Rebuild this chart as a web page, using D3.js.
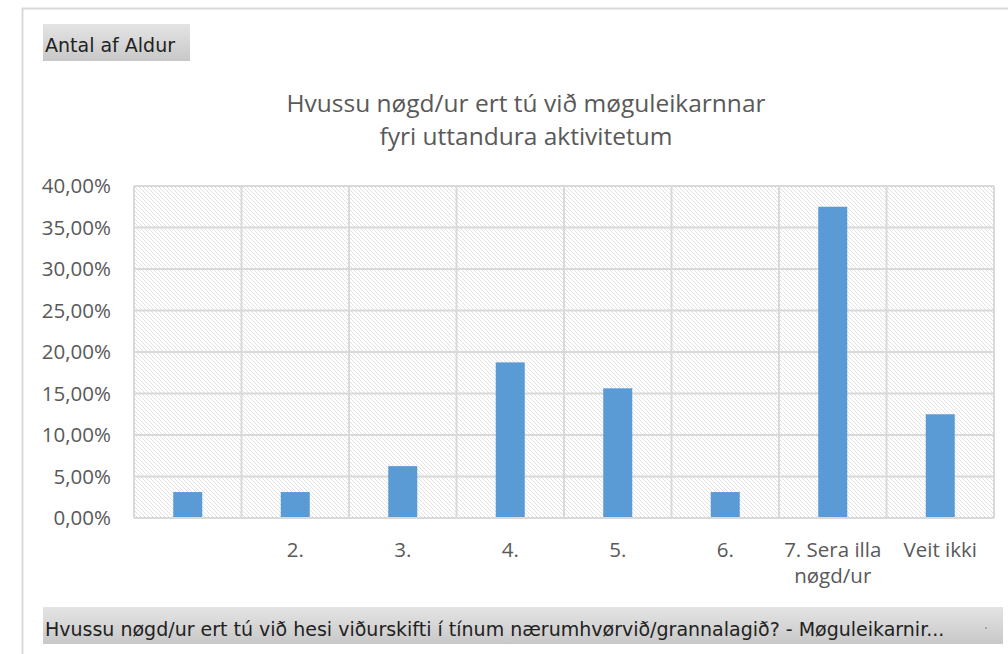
<!DOCTYPE html>
<html><head><meta charset="utf-8">
<script src="https://cdn.jsdelivr.net/npm/d3@7/dist/d3.min.js"></script>
<style>body{margin:0;background:#fff;}svg{display:block;}</style>
</head><body>
<svg id="c" width="1008" height="654"></svg>
<script>
const categories = ["", "2.", "3.", "4.", "5.", "6.", "7. Sera illa|nøgd/ur", "Veit ikki"];
const values = [3.125, 3.125, 6.25, 18.75, 15.625, 3.125, 37.5, 12.5];
const yTicks = [0, 5, 10, 15, 20, 25, 30, 35, 40];
const titleLines = ["Hvussu nøgd/ur ert tú við møguleikarnnar", "fyri uttandura aktivitetum"];
const filterLabel = "Antal af Aldur";
const axisFieldLabel = "Hvussu nøgd/ur ert tú við hesi viðurskifti í tínum nærumhvørvið/grannalagið? - Møguleikarnir...";

const font = "'Open Sans', Lato, sans-serif";
const btnFont = "'DejaVu Sans', Verdana, sans-serif";
const svg = d3.select("#c");
const defs = svg.append("defs");

// hatch pattern
const pat = defs.append("pattern").attr("id","hatch").attr("patternUnits","userSpaceOnUse")
  .attr("width",4).attr("height",4);
pat.append("rect").attr("width",4).attr("height",4).attr("fill","#fff");
pat.append("path").attr("d","M-1,-1 L5,5 M-1,3 L1,5 M3,-1 L5,1").attr("stroke","#e2e2e2").attr("stroke-width",1);

// gray gradient for field buttons
const g1 = defs.append("linearGradient").attr("id","btn").attr("x1",0).attr("y1",0).attr("x2",0).attr("y2",1);
g1.append("stop").attr("offset","0%").attr("stop-color","#e4e4e4");
g1.append("stop").attr("offset","100%").attr("stop-color","#c8c8c8");

// outer frame
svg.append("path").attr("d","M22.5,654 L22.5,8.5 L1008,8.5").attr("fill","none").attr("stroke","#d9d9d9").attr("stroke-width",2);

// filter button
svg.append("rect").attr("x",43).attr("y",24).attr("width",147).attr("height",37).attr("fill","url(#btn)");
svg.append("text").attr("x",45).attr("y",52).attr("font-family",btnFont).attr("font-size",19)
  .attr("fill","#222").text(filterLabel);

// title
svg.append("g").selectAll("text").data(titleLines).join("text")
  .attr("x",526).attr("y",(d,i)=>112+i*33).attr("text-anchor","middle")
  .attr("font-family",font).attr("font-size",24.5).attr("fill","#595959").text(d=>d);

const m = {l:134, r:994, t:186, b:518};
const x = d3.scaleBand().domain(d3.range(categories.length)).range([m.l,m.r]).paddingInner(0).paddingOuter(0);
const y = d3.scaleLinear().domain([0,40]).range([m.b,m.t]);

// plot background
svg.append("rect").attr("x",m.l).attr("y",m.t).attr("width",m.r-m.l).attr("height",m.b-m.t).attr("fill","url(#hatch)");

// gridlines
svg.append("g").selectAll("line").data(yTicks).join("line")
  .attr("x1",m.l).attr("x2",m.r).attr("y1",d=>y(d)).attr("y2",d=>y(d))
  .attr("stroke","#d9d9d9").attr("stroke-width",2);
const vx = d3.range(categories.length+1).map(i=> i<categories.length ? x(i) : m.r);
svg.append("g").selectAll("line").data(vx).join("line")
  .attr("x1",d=>d).attr("x2",d=>d).attr("y1",m.t).attr("y2",m.b)
  .attr("stroke","#d9d9d9").attr("stroke-width",2);

// bars
const bw = x.bandwidth()*0.27;
svg.append("g").selectAll("rect").data(values).join("rect")
  .attr("x",(d,i)=>x(i)+x.bandwidth()/2-bw/2).attr("width",bw)
  .attr("y",d=>y(d)).attr("height",d=>y(0)-y(d)-1).attr("fill","#5b9bd5");

// y axis labels
const fmt = d => d3.format(".2f")(d).replace(".",",")+"%";
svg.append("g").selectAll("text").data(yTicks).join("text")
  .attr("x",111).attr("y",d=>y(d)+7).attr("text-anchor","end")
  .attr("font-family",font).attr("font-size",20.5).attr("fill","#595959").text(fmt);

// x axis labels
const xl = svg.append("g").selectAll("text").data(categories).join("text")
  .attr("x",(d,i)=>x(i)+x.bandwidth()/2).attr("y",557).attr("text-anchor","middle")
  .attr("font-family",font).attr("font-size",20.5).attr("fill","#595959");
xl.each(function(d){
  const t = d3.select(this);
  d.split("|").forEach((s,j)=>t.append("tspan").attr("x",t.attr("x")).attr("dy",j?26:0).text(s));
});

// axis field button
svg.append("rect").attr("x",43).attr("y",607).attr("width",960).attr("height",37).attr("fill","url(#btn)");
svg.append("text").attr("x",45).attr("y",636).attr("font-family",btnFont).attr("font-size",19)
  .attr("fill","#222").text(axisFieldLabel);
svg.append("circle").attr("cx",986).attr("cy",628).attr("r",1).attr("fill","#999");
</script>
</body></html>
